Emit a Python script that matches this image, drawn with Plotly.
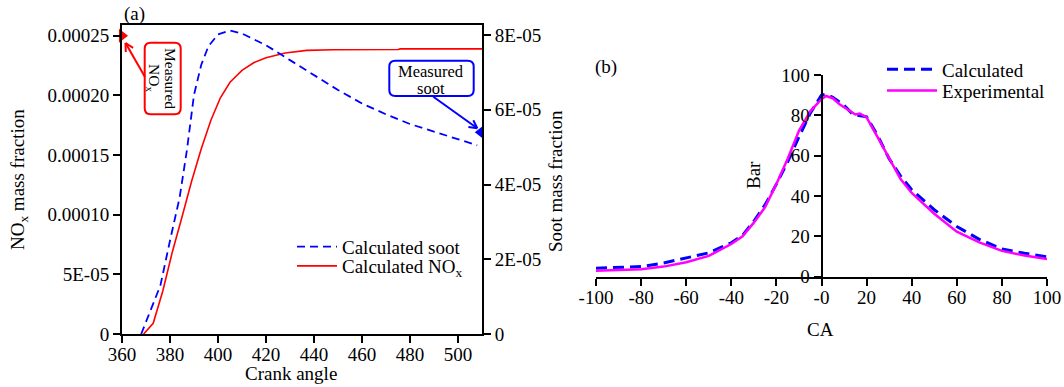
import math
import plotly.graph_objects as go

W, H = 1064, 387

# ---------------- data: panel (a) ----------------
crank_soot = [368, 372, 376, 380, 384, 387, 390, 393, 396, 400, 405, 410, 420,
              430, 440, 450, 460, 470, 480, 490, 500, 508]
soot_calc = [0, 6.5e-6, 1.3e-5, 2.5e-5, 3.65e-5, 4.9e-5, 6.4e-5, 7.2e-5, 7.7e-5,
             8.02e-5, 8.12e-5, 8.04e-5, 7.73e-5, 7.33e-5, 6.93e-5, 6.53e-5,
             6.17e-5, 5.88e-5, 5.62e-5, 5.42e-5, 5.22e-5, 5.05e-5]

crank_nox = [369, 373, 377, 381, 385, 389, 393, 397, 401, 405, 410, 415, 420,
             428, 437, 448, 475, 476, 510]
nox_calc = [0, 9e-6, 3.6e-5, 6.9e-5, 9.8e-5, 1.28e-4, 1.55e-4, 1.79e-4, 1.98e-4,
            2.11e-4, 2.21e-4, 2.275e-4, 2.315e-4, 2.355e-4, 2.377e-4, 2.382e-4,
            2.385e-4, 2.39e-4, 2.39e-4]

meas_nox_crank = [360]
meas_nox = [0.00025]
meas_soot_crank = [509.5]
meas_soot = [5.4e-5]

crank_ticks = [360, 380, 400, 420, 440, 460, 480, 500]
nox_tickvals = [0, 5e-5, 1e-4, 1.5e-4, 2e-4, 2.5e-4]
nox_ticktext = ["0", "5E-05", "0.00010", "0.00015", "0.00020", "0.00025"]
soot_tickvals = [0, 2e-5, 4e-5, 6e-5, 8e-5]
soot_ticktext = ["0", "2E-05", "4E-05", "6E-05", "8E-05"]

# ---------------- data: panel (b) ----------------
ca_calc = [-100, -90, -80, -70, -60, -50, -40, -35, -30, -25, -20, -15, -10, -5,
           0, 2, 5, 10, 14, 17, 20, 25, 30, 35, 40, 50, 60, 70, 80, 90, 100]
p_calc = [4.2, 4.5, 5.0, 6.8, 9.4, 11.8, 16.8, 20.5, 27.5, 35.7, 45.9, 57.0, 69.3,
          81.0, 90.0, 90.5, 89.0, 85.0, 80.4, 80.0, 79.3, 69.7, 58.5, 50.0, 43.1,
          33.2, 24.9, 18.5, 13.8, 11.6, 9.8]

ca_exp = [-100, -90, -80, -70, -60, -50, -40, -35, -30, -25, -20, -15, -10, -5,
          0, 2, 5, 8, 12, 15, 17, 20, 25, 30, 35, 40, 50, 60, 70, 80, 90, 100]
p_exp = [3.0, 3.2, 3.7, 5.0, 7.2, 10.3, 16.2, 20.0, 26.8, 34.5, 46.0, 58.5, 72.3,
         82.0, 88.0, 89.6, 88.5, 85.5, 82.5, 80.4, 80.9, 79.0, 68.9, 59.0, 48.5,
         41.5, 31.2, 22.3, 17.0, 12.8, 10.5, 8.8]

ca_tickvals = [-100, -80, -60, -40, -20, 0, 20, 40, 60, 80, 100]
ca_ticktext = ["-100", "-80", "-60", "-40", "-20", "-0", "20", "40", "60", "80", "100"]
bar_tickvals = [0, 20, 40, 60, 80, 100]

FONT = "Liberation Serif"


def fx(x):
    return x / W


def fy(y):
    return 1 - y / H


def rrect(x0, y0, x1, y1, r):
    def p(x, y):
        return f"{fx(x):.5f},{fy(y):.5f}"
    pts = ["M" + p(x0 + r, y0), "L" + p(x1 - r, y0),
           "Q" + p(x1, y0) + " " + p(x1, y0 + r), "L" + p(x1, y1 - r),
           "Q" + p(x1, y1) + " " + p(x1 - r, y1), "L" + p(x0 + r, y1),
           "Q" + p(x0, y1) + " " + p(x0, y1 - r), "L" + p(x0, y0 + r),
           "Q" + p(x0, y0) + " " + p(x0 + r, y0), "Z"]
    return " ".join(pts)


def arrow_shapes(tail, tip, color, arm=9, ang=28):
    tx, ty = tail
    hx, hy = tip
    dx, dy = tx - hx, ty - hy
    L = math.hypot(dx, dy)
    ux, uy = dx / L, dy / L
    shapes = [dict(type="line", xref="paper", yref="paper",
                   x0=fx(tx), y0=fy(ty), x1=fx(hx), y1=fy(hy),
                   line=dict(color=color, width=2))]
    for s in (1, -1):
        a = math.radians(ang * s)
        rx = ux * math.cos(a) - uy * math.sin(a)
        ry = ux * math.sin(a) + uy * math.cos(a)
        shapes.append(dict(type="line", xref="paper", yref="paper",
                           x0=fx(hx), y0=fy(hy), x1=fx(hx + rx * arm), y1=fy(hy + ry * arm),
                           line=dict(color=color, width=2)))
    return shapes


fig = go.Figure()

fig.add_trace(go.Scatter(x=crank_soot, y=soot_calc, mode="lines", name="Calculated soot",
                         line=dict(color="#0000ff", width=1.8, dash="8px,5px"),
                         xaxis="x", yaxis="y2", legend="legend"))
fig.add_trace(go.Scatter(x=crank_nox, y=nox_calc, mode="lines", name="Calculated NO<sub>x</sub>",
                         line=dict(color="#ff0000", width=1.6),
                         xaxis="x", yaxis="y", legend="legend2"))
fig.add_trace(go.Scatter(x=meas_nox_crank, y=meas_nox, mode="markers", showlegend=False,
                         marker=dict(symbol="triangle-right", size=12, color="#ff0000"),
                         cliponaxis=False, xaxis="x", yaxis="y"))
fig.add_trace(go.Scatter(x=meas_soot_crank, y=meas_soot, mode="markers", showlegend=False,
                         marker=dict(symbol="triangle-left", size=12, color="#0000ff"),
                         cliponaxis=False, xaxis="x", yaxis="y2"))

fig.add_trace(go.Scatter(x=ca_calc, y=p_calc, mode="lines", name="Calculated",
                         line=dict(color="#0000ff", width=3, dash="11px,6px"),
                         xaxis="x2", yaxis="y3", legend="legend3"))
fig.add_trace(go.Scatter(x=ca_exp, y=p_exp, mode="lines", name="Experimental",
                         line=dict(color="#ff00ff", width=2.5),
                         xaxis="x2", yaxis="y3", legend="legend4"))

axis_common = dict(showline=True, linecolor="black", linewidth=2, ticks="outside",
                   ticklen=7, tickwidth=2, tickcolor="black", showgrid=False,
                   zeroline=False, automargin=False,
                   tickfont=dict(family=FONT, size=19, color="black"))

leg_common = dict(bgcolor="rgba(0,0,0,0)", borderwidth=0, xanchor="left",
                  yanchor="middle", font=dict(family=FONT, size=19, color="black"))

x2dom = [fx(596), fx(1047)]

fig.update_layout(
    template="none",
    width=W, height=H, autosize=False,
    margin=dict(l=0, r=0, t=0, b=0, autoexpand=False),
    paper_bgcolor="white", plot_bgcolor="white",
    font=dict(family=FONT, size=19, color="black"),
    xaxis=dict(domain=[fx(122), fx(482)], range=[360, 510], anchor="y", mirror=True,
               tickvals=crank_ticks, ticklabelstandoff=-5, **axis_common),
    yaxis=dict(domain=[fy(334), fy(25)], range=[0, 0.000259], anchor="x",
               tickvals=nox_tickvals, ticktext=nox_ticktext, **axis_common),
    yaxis2=dict(overlaying="y", side="right", range=[0, 8.27e-5], anchor="x",
                tickvals=soot_tickvals, ticktext=soot_ticktext, **axis_common),
    xaxis2=dict(domain=x2dom, range=[-100, 100], anchor="y3",
                tickvals=ca_tickvals, ticktext=ca_ticktext, ticklabelstandoff=-5,
                **axis_common),
    yaxis3=dict(domain=[fy(276.7), fy(75)], range=[0, 100], anchor="free",
                position=(x2dom[0] + x2dom[1]) / 2,
                tickvals=bar_tickvals, **axis_common),
    legend=dict(x=fx(292), y=fy(246.7), itemwidth=40, **leg_common),
    legend2=dict(x=fx(292), y=fy(266), itemwidth=40, **leg_common),
    legend3=dict(x=fx(882), y=fy(69.3), itemwidth=50, **leg_common),
    legend4=dict(x=fx(882), y=fy(90.7), itemwidth=50, **leg_common),
    showlegend=True,
)

ann = []


def text_ann(txt, x, y, angle=0, size=19, color="black"):
    ann.append(dict(text=txt, x=fx(x), y=fy(y), xref="paper", yref="paper",
                    xanchor="center", yanchor="middle", showarrow=False,
                    textangle=angle, font=dict(family=FONT, size=size, color=color)))


text_ann("(a)", 134.5, 14)
text_ann("(b)", 606, 67)
text_ann("NO<sub>x</sub> mass fraction", 19, 180, -90)
text_ann("Soot mass fraction", 555, 181, -90)
text_ann("Crank angle", 290.5, 373)
text_ann("Bar", 753, 175, -90)
text_ann("CA", 820, 329)

# measured NOx box text (rotated)
text_ann("Measured", 171, 78, 90, size=15.5)
text_ann("NO<sub>x</sub>", 154, 78, 90, size=15.5)
# measured soot box text
text_ann("Measured", 431, 71, size=16.5)
text_ann("soot", 431, 88, size=16.5)

fig.update_layout(annotations=ann)

shapes = [
    dict(type="path", xref="paper", yref="paper", path=rrect(144.7, 42.7, 180.7, 114.3, 6),
         line=dict(color="#ff0000", width=2), fillcolor="rgba(0,0,0,0)"),
    dict(type="path", xref="paper", yref="paper", path=rrect(389.3, 60.7, 473.7, 96, 6),
         line=dict(color="#0000ff", width=2), fillcolor="rgba(0,0,0,0)"),
]
shapes += arrow_shapes((145, 77), (125.5, 43), "#ff0000")
shapes += arrow_shapes((433.3, 96.7), (477.3, 128.3), "#0000ff")
fig.update_layout(shapes=shapes)

fig.write_html("out.html")
